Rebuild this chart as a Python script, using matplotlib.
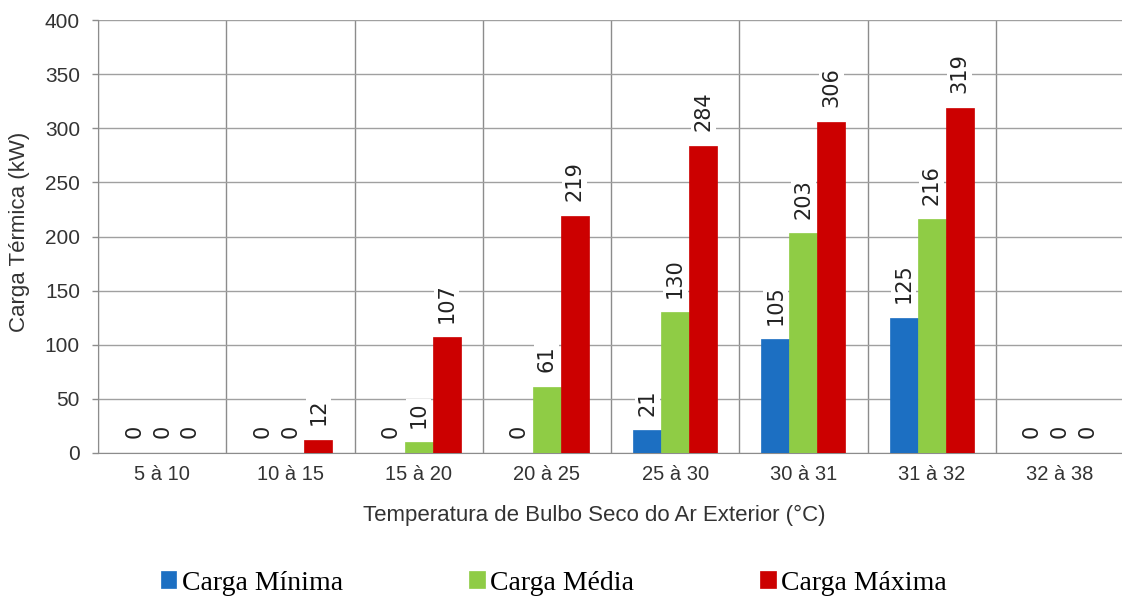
import numpy as np
import matplotlib
matplotlib.use("Agg")
import matplotlib.pyplot as plt

# -------------------------------
# Data
# -------------------------------
categories = ["5 à 10", "10 à 15", "15 à 20", "20 à 25", "25 à 30", "30 à 31", "31 à 32", "32 à 38"]
carga_minima = [0, 0, 0, 0, 21, 105, 125, 0]
carga_media = [0, 0, 10, 61, 130, 203, 216, 0]
carga_maxima = [0, 12, 107, 219, 284, 306, 319, 0]

series = [
    ("Carga Mínima", carga_minima, "#1c6fc2"),
    ("Carga Média", carga_media, "#8fcc45"),
    ("Carga Máxima", carga_maxima, "#cc0000"),
]

plt.rcParams['font.family'] = ['Liberation Sans', 'DejaVu Sans']

W, H = 1122, 598
fig = plt.figure(figsize=(W / 100, H / 100), dpi=100)
# plot area: left 98px, top 20px, bottom 453px, 128.3px per category
ax = fig.add_axes([98 / W, 1 - 453 / H, 1026 / W, 433 / H])

x = np.arange(len(categories))
w = 0.218
for i, (name, vals, col) in enumerate(series):
    pos = x + (i - 1) * w
    ax.bar(pos, vals, width=w, color=col, edgecolor=col, linewidth=0.5, label=name, zorder=3)
    for p, v in zip(pos, vals):
        ax.annotate(str(v), (p, v), xytext=(0, 10.5), textcoords="offset points",
                    rotation=90, ha="center", va="bottom", fontsize=15,
                    family="DejaVu Sans", color="#222222", zorder=4,
                    bbox=dict(boxstyle="square,pad=0.12", fc="white", ec="none"))

ax.set_xlim(-0.5, len(categories) - 0.5)
ax.set_ylim(0, 400)
ax.set_yticks(np.arange(0, 401, 50))
ax.set_xticks(x)
ax.set_xticklabels(categories)
ax.set_xticks(np.arange(-0.5, len(categories), 1), minor=True)
ax.grid(True, axis="y", color="#a0a0a0", linewidth=1.0, zorder=0)
ax.grid(True, axis="x", which="minor", color="#8c8c8c", linewidth=1.0, zorder=0)
ax.tick_params(axis="x", which="both", length=0, labelsize=14.5, pad=9, colors="#333333")
ax.tick_params(axis="y", length=4.5, width=1, color="#8c8c8c", labelsize=15, pad=8.5,
               labelcolor="#333333")
for s in ["top", "right"]:
    ax.spines[s].set_visible(False)
ax.spines["left"].set_color("#8c8c8c")
ax.spines["bottom"].set_color("#8c8c8c")

fig.text(20 / W, 1 - 232 / H, "Carga Térmica (kW)", rotation=90, fontsize=16,
         color="#333333", ha="center", va="center")
fig.text(594 / W, 1 - 515 / H, "Temperatura de Bulbo Seco do Ar Exterior (°C)",
         fontsize=16, color="#333333", ha="center", va="center")

fig.legend(loc="center left", bbox_to_anchor=(147 / W, 1 - 583 / H), ncol=3, frameon=False,
           prop={"family": "Liberation Serif", "size": 20}, borderpad=0,
           handlelength=0.55, handleheight=0.55, handletextpad=0.2, columnspacing=4.55)

fig.savefig("out.png", dpi=100)
